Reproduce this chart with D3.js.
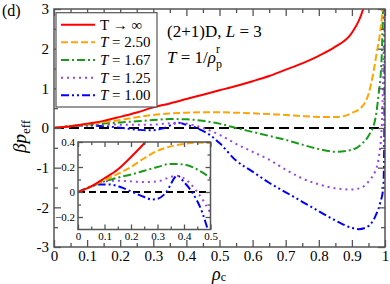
<!DOCTYPE html>
<html>
<head>
<meta charset="utf-8">
<script src="https://cdn.jsdelivr.net/npm/d3@7"></script>
<style>
  body { margin: 0; background: #fff; }
  svg { font-family: "Liberation Serif", "DejaVu Serif", serif; }
  .axis text { fill: #000; }
  .axis line { stroke: #555; }
  .axis path { display: none; }
</style>
</head>
<body>
<script>
// series values (rho_c -> beta p_eff)
var rhoInf = [0, 0.05, 0.1, 0.15, 0.2, 0.25, 0.3, 0.35, 0.4, 0.45, 0.5, 0.55, 0.6, 0.65, 0.7, 0.75, 0.8, 0.85, 0.9, 0.934, 0.96]
var pInf = [0, 0.045, 0.11, 0.18, 0.28, 0.39, 0.52, 0.62, 0.73, 0.84, 0.95, 1.06, 1.18, 1.31, 1.47, 1.63, 1.82, 2.05, 2.4, 3.0, 4.0]

var rho250 = [0, 0.05, 0.1, 0.15, 0.2, 0.25, 0.3, 0.35, 0.4, 0.45, 0.5, 0.55, 0.6, 0.65, 0.7, 0.75, 0.8, 0.86, 0.9, 0.93, 0.95, 0.965, 0.975, 0.985, 0.992, 1]
var p250 = [0, 0.045, 0.095, 0.145, 0.2, 0.27, 0.33, 0.365, 0.385, 0.395, 0.395, 0.385, 0.37, 0.35, 0.33, 0.3, 0.28, 0.28, 0.38, 0.53, 0.85, 1.4, 1.9, 2.4, 3.0, 5]

var rho167 = [0, 0.05, 0.1, 0.15, 0.2, 0.25, 0.3, 0.35, 0.4, 0.45, 0.5, 0.55, 0.6, 0.65, 0.7, 0.75, 0.8, 0.85, 0.9, 0.93, 0.95, 0.97, 0.98, 0.99, 0.995, 1]
var p167 = [0, 0.045, 0.085, 0.115, 0.14, 0.17, 0.2, 0.225, 0.22, 0.18, 0.11, 0.0, -0.1, -0.2, -0.3, -0.42, -0.53, -0.6, -0.55, -0.4, -0.2, 0.2, 0.8, 1.8, 3.2, 4]

var rho125 = [0, 0.05, 0.1, 0.15, 0.2, 0.25, 0.3, 0.35, 0.37, 0.4, 0.45, 0.5, 0.55, 0.6, 0.65, 0.7, 0.75, 0.8, 0.85, 0.9, 0.93, 0.955, 0.97, 0.98, 0.99, 0.995, 1]
var p125 = [0, 0.045, 0.085, 0.09, 0.085, 0.08, 0.085, 0.12, 0.13, 0.11, 0.0, -0.17, -0.4, -0.6, -0.8, -1.05, -1.27, -1.42, -1.52, -1.55, -1.5, -1.3, -1.1, -0.8, 0.0, 1.5, 4]

var rho100 = [0, 0.05, 0.08, 0.12, 0.16, 0.2, 0.25, 0.28, 0.3, 0.33, 0.375, 0.4, 0.43, 0.47, 0.5, 0.55, 0.6, 0.65, 0.7, 0.75, 0.8, 0.85, 0.9, 0.92, 0.945, 0.97, 0.985, 0.995, 0.998, 1]
var p100 = [0, 0.045, 0.06, 0.06, 0.04, 0.005, -0.04, -0.06, -0.055, -0.01, 0.13, 0.08, 0.0, -0.17, -0.38, -0.82, -1.1, -1.38, -1.62, -1.86, -2.1, -2.33, -2.52, -2.55, -2.5, -2.24, -1.9, -1.5, 0.0, 4]

var legendLabels = ['T \u2192 \u221e', '2.50', '1.67', '1.25', '1.00']
var colors = ['#ff0000', '#ffa500', '#1a9a1a', '#9b45e0', '#0000ff']
var dashes = [null, '7,3', '8,3,2,3', '2,4', '8,3,2,3,2,3']

var mainXTicks = [0, 0.1, 0.2, 0.3, 0.4, 0.5, 0.6, 0.7, 0.8, 0.9, 1]
var mainXMinor = [0.05, 0.15, 0.25, 0.35, 0.45, 0.55, 0.65, 0.75, 0.85, 0.95]
var mainYTicks = [-3, -2, -1, 0, 1, 2, 3]
var mainYMinor = [-2.5, -1.5, -0.5, 0.5, 1.5, 2.5]
var insetXTicks = [0, 0.1, 0.2, 0.3, 0.4, 0.5]
var insetXMinor = [0.05, 0.15, 0.25, 0.35, 0.45]
var insetYTicks = [-0.2, 0, 0.2, 0.4]
var insetYMinor = [-0.1, 0.1, 0.3]

var series = [
  {x: rhoInf, y: pInf},
  {x: rho250, y: p250},
  {x: rho167, y: p167},
  {x: rho125, y: p125},
  {x: rho100, y: p100}
]

const W = 390, H = 284
const svg = d3.select('body').append('svg').attr('width', W).attr('height', H)

// main panel
var x = d3.scaleLinear().domain([0, 1]).range([54, 385])
var y = d3.scaleLinear().domain([-3, 3]).range([247, 9])
// inset panel
var xi = d3.scaleLinear().domain([0, 0.5]).range([78, 210.5])
var yi = d3.scaleLinear().domain([-0.3, 0.4]).range([229.5, 142])

var defs = svg.append('defs')
defs.append('clipPath').attr('id', 'clipMain').append('rect')
  .attr('x', 54).attr('y', 9).attr('width', 331).attr('height', 238)
defs.append('clipPath').attr('id', 'clipInset').append('rect')
  .attr('x', 78).attr('y', 142).attr('width', 132.5).attr('height', 87.5)

function drawPanel(g, sx, sy, clip, lw, zeroDash) {
  var gl = g.append('g').attr('clip-path', `url(#${clip})`)
  gl.append('line')
    .attr('x1', sx.range()[0]).attr('x2', sx.range()[1])
    .attr('y1', sy(0)).attr('y2', sy(0))
    .attr('stroke', '#000').attr('stroke-width', lw).attr('stroke-dasharray', zeroDash)
  var line = d3.line().x(d => sx(d[0])).y(d => sy(d[1])).curve(d3.curveMonotoneX)
  // draw T=1.00 first so red ends on top
  for (var i = series.length - 1; i >= 0; i--) {
    var s = series[i]
    gl.append('path')
      .attr('d', line(s.x.map((v, k) => [v, s.y[k]])))
      .attr('fill', 'none')
      .attr('stroke', colors[i])
      .attr('stroke-width', lw)
      .attr('stroke-dasharray', dashes[i])
  }
}

function drawAxes(g, sx, sy, xt, yt, xMinor, yMinor, big, small, fs, padX, padY, fmt) {
  var x0 = sx.range()[0], x1 = sx.range()[1], y0 = sy.range()[0], y1 = sy.range()[1]
  var ax = [
    [d3.axisBottom(sx).tickValues(xt).tickSize(-big).tickPadding(padX).tickFormat(fmt), `translate(0,${y0})`],
    [d3.axisBottom(sx).tickValues(xMinor).tickSize(-small).tickFormat(''), `translate(0,${y0})`],
    [d3.axisTop(sx).tickValues(xt).tickSize(-big).tickFormat(''), `translate(0,${y1})`],
    [d3.axisTop(sx).tickValues(xMinor).tickSize(-small).tickFormat(''), `translate(0,${y1})`],
    [d3.axisLeft(sy).tickValues(yt).tickSize(-big).tickPadding(padY).tickFormat(fmt), `translate(${x0},0)`],
    [d3.axisLeft(sy).tickValues(yMinor).tickSize(-small).tickFormat(''), `translate(${x0},0)`],
    [d3.axisRight(sy).tickValues(yt).tickSize(-big).tickFormat(''), `translate(${x1},0)`],
    [d3.axisRight(sy).tickValues(yMinor).tickSize(-small).tickFormat(''), `translate(${x1},0)`]
  ]
  ax.forEach(a => {
    g.append('g').attr('class', 'axis').attr('transform', a[1]).call(a[0])
      .attr('font-family', null).attr('font-size', fs)
  })
  g.selectAll('.axis line').attr('stroke-width', 1.3)
  g.append('rect').attr('x', x0).attr('y', y1).attr('width', x1 - x0).attr('height', y0 - y1)
    .attr('fill', 'none').attr('stroke', '#555').attr('stroke-width', 1.5)
}

// 0, 0.1 ... 1 the way the plot writes them
var fmtTick = d => (d === 0 || d === 1 || Math.abs(d) >= 1) ? String(d) : d3.format('.1f')(d)

var mainG = svg.append('g')
drawPanel(mainG, x, y, 'clipMain', 2, '10,5')
drawAxes(mainG, x, y, mainXTicks, mainYTicks, mainXMinor, mainYMinor, 7, 4, 15, 3, 5, fmtTick)

// legend
var leg = svg.append('g')
leg.append('rect').attr('x', 56).attr('y', 12.7).attr('width', 101).attr('height', 94.3)
  .attr('fill', '#fff').attr('stroke', '#555').attr('stroke-width', 1.2)
legendLabels.forEach((lab, i) => {
  var ly = 24.7 + i * 17.65
  leg.append('line').attr('x1', 61).attr('x2', 95).attr('y1', ly).attr('y2', ly)
    .attr('stroke', colors[i]).attr('stroke-width', 2).attr('stroke-dasharray', dashes[i])
  var t = leg.append('text').attr('x', 100).attr('y', ly + 5).attr('font-size', 15)
  if (i === 0) {
    t.text(lab)
  } else {
    t.append('tspan').attr('font-style', 'italic').text('T')
    t.append('tspan').text(' = ' + lab)
  }
})

// inset
var insG = svg.append('g')
insG.append('rect').attr('x', 78).attr('y', 142).attr('width', 132.5).attr('height', 87.5).attr('fill', '#fff')
drawPanel(insG, xi, yi, 'clipInset', 2, '7,4')
drawAxes(insG, xi, yi, insetXTicks, insetYTicks, insetXMinor, insetYMinor, 5, 3, 11, 3, 3, fmtTick)

// annotations
svg.append('text').attr('x', 2).attr('y', 16).attr('font-size', 16).text('(d)')
var t1 = svg.append('text').attr('x', 167).attr('y', 37).attr('font-size', 17)
t1.append('tspan').text('(2+1)D, ')
t1.append('tspan').attr('font-style', 'italic').text('L')
t1.append('tspan').text(' = 3')
var t2 = svg.append('text').attr('x', 167).attr('y', 63).attr('font-size', 17)
t2.append('tspan').attr('font-style', 'italic').text('T')
t2.append('tspan').text(' = 1/')
t2.append('tspan').attr('font-style', 'italic').text('\u03c1')
t2.append('tspan').attr('font-size', 12).attr('dy', 5).text('p')
t2.append('tspan').attr('font-size', 12).attr('dx', -6).attr('dy', -15).text('r')

var xl = svg.append('text').attr('x', 212).attr('y', 280).attr('font-size', 18)
xl.append('tspan').attr('font-style', 'italic').text('\u03c1')
xl.append('tspan').attr('font-size', 12).attr('dy', 1).text('c')

var yl = svg.append('text').attr('transform', 'translate(26,153) rotate(-90)').attr('font-size', 19)
yl.append('tspan').attr('font-style', 'italic').text('\u03b2p')
yl.append('tspan').attr('font-size', 13).attr('dy', 4).text('eff')
</script>
</body>
</html>
